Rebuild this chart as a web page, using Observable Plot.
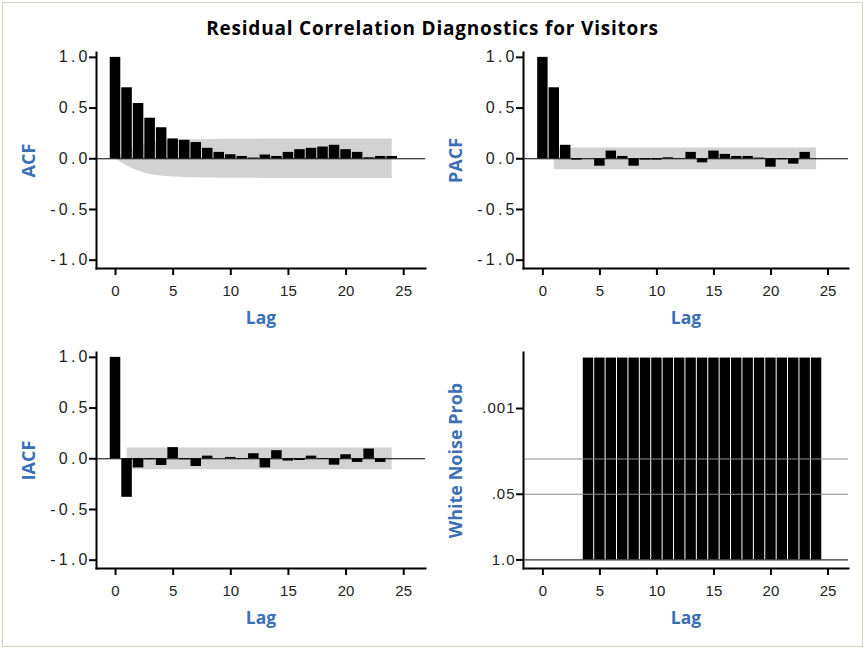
<!DOCTYPE html>
<html>
<head>
<meta charset="utf-8">
<script src="https://cdn.jsdelivr.net/npm/d3@7"></script>
<script src="https://cdn.jsdelivr.net/npm/@observablehq/plot@0.6"></script>
<style>
  body { margin: 0; background: #fff; }
  #chart { position: relative; width: 865px; height: 649px; overflow: hidden; background: #fff; }
  #border { position: absolute; left: 2px; top: 2px; width: 859px; height: 643px; border: 1px solid #d3d3bd; }
  #title { position: absolute; left: 0; top: 19px; width: 865px; text-align: center;
           font: bold 19px "Open Sans", sans-serif; line-height: 19px; color: #000; letter-spacing: 0.8px; }
  .panel { position: absolute; }
</style>
</head>
<body>
<div id="chart">
  <div id="border"></div>
  <div id="title">Residual Correlation Diagnostics for Visitors</div>
</div>
<script>
// ---------- data ----------
const lags = [0, 1, 2, 3, 4, 5, 6, 7, 8, 9, 10, 11, 12, 13, 14, 15, 16, 17, 18, 19, 20, 21, 22, 23, 24];

const acfValues = [1.0, 0.70, 0.545, 0.40, 0.306, 0.196, 0.183, 0.16, 0.103, 0.063, 0.04, 0.023, 0.007,
                   0.037, 0.023, 0.063, 0.09, 0.103, 0.116, 0.133, 0.09, 0.063, 0.01, 0.023, 0.023];

const pacfValues = [1.0, 0.70, 0.133, -0.013, 0.0, -0.073, 0.076, 0.023, -0.073, -0.013, -0.013, 0.01, 0.003,
                    0.063, -0.04, 0.076, 0.043, 0.023, 0.023, 0.007, -0.083, -0.01, -0.053, 0.063, 0.0];

const iacfValues = [1.0, -0.38, -0.09, -0.01, -0.066, 0.11, -0.01, -0.076, 0.026, 0.0, 0.013, -0.007, 0.05,
                    -0.09, 0.08, -0.023, -0.017, 0.026, -0.007, -0.063, 0.04, -0.036, 0.096, -0.036, 0.0];

// ACF two-standard-error band (half width) by lag
const acfBand = [0, 0.07, 0.12, 0.153, 0.17, 0.18, 0.184, 0.187, 0.19, 0.191, 0.192, 0.193, 0.193,
                 0.194, 0.194, 0.194, 0.194, 0.195, 0.195, 0.195, 0.195, 0.195, 0.195, 0.195, 0.195];
// PACF / IACF two-standard-error limit, lags 1..24
const bandLags = [1, 2, 3, 4, 5, 6, 7, 8, 9, 10, 11, 12, 13, 14, 15, 16, 17, 18, 19, 20, 21, 22, 23, 24];
const pacfLimit = 0.107;
const iacfLimit = 0.107;

// White noise test (probabilities, plotted on a -log10 axis)
const wnLags = [4, 5, 6, 7, 8, 9, 10, 11, 12, 13, 14, 15, 16, 17, 18, 19, 20, 21, 22, 23, 24];
const wnProb = [0.0001, 0.0001, 0.0001, 0.0001, 0.0001, 0.0001, 0.0001, 0.0001, 0.0001, 0.0001, 0.0001,
                0.0001, 0.0001, 0.0001, 0.0001, 0.0001, 0.0001, 0.0001, 0.0001, 0.0001, 0.0001];
const wnBase = 1.0;
const wnRefLines = [0.05, 0.01];

// tick labels
const xTicks = [0, 5, 10, 15, 20, 25];
const corrTicks = [-1.0, -0.5, 0.0, 0.5, 1.0];
const corrTickLabels = ["-1.0", "-0.5", "0.0", "0.5", "1.0"];
const wnTicks = [1.0, 0.05, 0.001];
const wnTickLabels = ["1.0", ".05", ".001"];

const yLabels = ["ACF", "PACF", "IACF", "White Noise Prob"];
const xLabel = "Lag";

// ---------- styling ----------
const labelBlue = "#3b6fb6";
const tickFont = "Liberation Sans, Arial, sans-serif";
const labelFont = "Open Sans, sans-serif";
const negLog = (p) => (p === 1 ? 0 : -Math.log10(p));

function labelFor(vals, labels) {
  return (d) => {
    const i = vals.findIndex((t) => Math.abs(t - d) < 1e-9);
    return i < 0 ? "" : labels[i];
  };
}

function commonMarks(yTickVals, yTickLabels, yLabel, yFontSize) {
  return [
    Plot.axisY(yTickVals, {tickSize: 7, tickPadding: 2, strokeWidth: 2, fontSize: yFontSize, fill: "#222",
      tickFormat: labelFor(yTickVals, yTickLabels), label: null}),
    Plot.axisX(xTicks, {tickSize: 7, tickPadding: 10, strokeWidth: 2, fontSize: 15, fill: "#222", label: null}),
    Plot.frame({anchor: "left", stroke: "#000", strokeWidth: 2}),
    Plot.frame({anchor: "bottom", stroke: "#000", strokeWidth: 2}),
    Plot.text([yLabel], {text: (d) => d, frameAnchor: "left", textAnchor: "middle", dx: -67, rotate: -90,
      fill: labelBlue, fontWeight: "bold", fontSize: 18, fontFamily: labelFont}),
    Plot.text([xLabel], {text: (d) => d, frameAnchor: "bottom", textAnchor: "middle", dy: 55, fill: labelBlue,
      fontWeight: "bold", fontSize: 17.5, fontFamily: labelFont})
  ];
}

function place(svg, left, top) {
  svg.classList.add("panel");
  svg.style.left = left + "px";
  svg.style.top = top + "px";
  svg.style.position = "absolute";
  document.getElementById("chart").appendChild(svg);
}

// widen the tick label glyph spacing (SAS renders these loosely)
function styleTicks(svg, spacing) {
  const g = svg.querySelector('g[aria-label="y-axis tick label"]');
  if (!g) return;
  g.querySelectorAll("text").forEach((t) => t.setAttribute("letter-spacing", spacing + "px"));
  const tr = g.getAttribute("transform") || "";
  g.setAttribute("transform", (tr + ` translate(${spacing},0)`).trim());
}

function corrPanel({values, bandMarks, yLabel, left, top, ml, mr, xDomain}) {
  const rows = lags.map((l, i) => ({lag: l, v: values[i]}));
  const svg = Plot.plot({
    width: 432, height: 300,
    marginLeft: ml, marginRight: mr, marginTop: 12, marginBottom: 72,
    style: {background: "transparent", fontFamily: tickFont, fontSize: "15px", color: "#000", overflow: "visible"},
    x: {domain: xDomain, label: null},
    y: {domain: [-1.082, 1.048], label: null},
    marks: [
      ...bandMarks,
      Plot.rect(rows, {x1: (d) => d.lag - 0.5, x2: (d) => d.lag + 0.5, y1: 0, y2: "v",
        fill: "#000", insetLeft: 0.5, insetRight: 0.5}),
      Plot.ruleY([0], {stroke: "#000", strokeWidth: 1}),
      ...commonMarks(corrTicks, corrTickLabels, yLabel, 16)
    ]
  });
  styleTicks(svg, 3.2);
  place(svg, left, top);
}

const xDomL = [-1.65, 26.89];
const xDomR = [-1.7, 26.8];

// ACF
corrPanel({
  values: acfValues,
  bandMarks: [Plot.areaY(lags.map((l, i) => ({lag: l, b: acfBand[i]})),
    {x: "lag", y1: (d) => -d.b, y2: "b", fill: "#d2d2d2", curve: "monotone-x"})],
  yLabel: yLabels[0], left: 0, top: 40, ml: 96, mr: 7, xDomain: xDomL
});

// PACF
corrPanel({
  values: pacfValues,
  bandMarks: [Plot.areaY(bandLags, {x: (d) => d, y1: () => -pacfLimit, y2: () => pacfLimit, fill: "#d2d2d2"})],
  yLabel: yLabels[1], left: 432, top: 40, ml: 91, mr: 16, xDomain: xDomR
});

// IACF
corrPanel({
  values: iacfValues,
  bandMarks: [Plot.areaY(bandLags, {x: (d) => d, y1: () => -iacfLimit, y2: () => iacfLimit, fill: "#d2d2d2"})],
  yLabel: yLabels[2], left: 0, top: 340, ml: 96, mr: 7, xDomain: xDomL
});

// White noise probability
{
  const rows = wnLags.map((l, i) => ({lag: l, p: wnProb[i]}));
  const tickPos = wnTicks.map(negLog);
  const svg = Plot.plot({
    width: 432, height: 300,
    marginLeft: 91, marginRight: 16, marginTop: 12, marginBottom: 72,
    style: {background: "transparent", fontFamily: tickFont, fontSize: "15px", color: "#000", overflow: "visible"},
    x: {domain: xDomR, label: null},
    y: {domain: [-0.17, 4.11], label: null},
    marks: [
      Plot.rect(rows, {x1: (d) => d.lag - 0.5, x2: (d) => d.lag + 0.5, y1: () => negLog(wnBase), y2: (d) => negLog(d.p),
        fill: "#000", insetLeft: 0.5, insetRight: 0.5}),
      Plot.ruleY(wnRefLines, {y: negLog, stroke: "#8c8c8c", strokeWidth: 1}),
      Plot.ruleY([wnBase], {y: negLog, stroke: "#000", strokeWidth: 1}),
      ...commonMarks(tickPos, wnTickLabels, yLabels[3], 15)
    ]
  });
  styleTicks(svg, 1);
  place(svg, 432, 340);
}
</script>
</body>
</html>
